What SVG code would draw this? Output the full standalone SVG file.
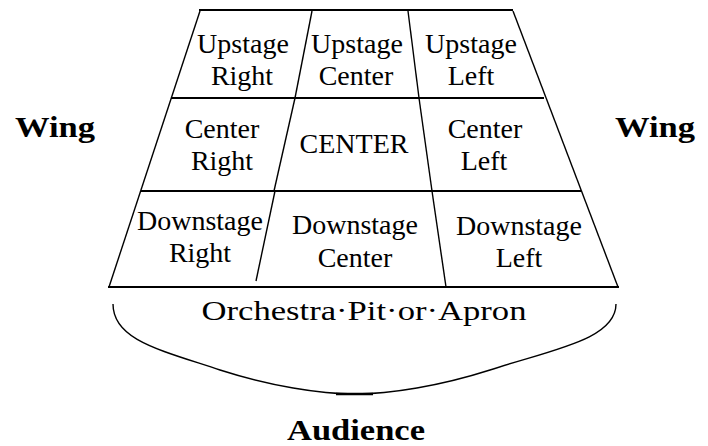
<svg xmlns="http://www.w3.org/2000/svg" width="708" height="446" viewBox="0 0 708 446">
<style>
.h{stroke:#000;stroke-width:2;fill:none}
.s{stroke:#000;stroke-width:1.4;fill:none}
.c{font-family:"Liberation Serif","Times New Roman",serif;font-size:28px;fill:#000;text-anchor:middle}
.b{font-family:"Liberation Serif","Times New Roman",serif;font-size:30px;font-weight:bold;fill:#000;text-anchor:middle}
</style>
<rect width="708" height="446" fill="#fff"/>
<g id="stage-grid">
<line class="h" x1="199" y1="10" x2="513" y2="10"/>
<line class="h" x1="171" y1="98" x2="544" y2="98"/>
<line class="h" x1="141" y1="191" x2="581" y2="191"/>
<line class="h" x1="108" y1="287" x2="619" y2="287"/>
<line class="s" x1="200" y1="11" x2="109" y2="287"/>
<line class="s" x1="513" y1="11" x2="618" y2="287"/>
<line class="s" x1="312" y1="11" x2="295" y2="98"/>
<line class="s" x1="295" y1="98" x2="274" y2="191"/>
<line class="s" x1="275" y1="191" x2="256" y2="281"/>
<line class="s" x1="408" y1="11" x2="419" y2="98"/>
<line class="s" x1="419" y1="98" x2="432" y2="191"/>
<line class="s" x1="432" y1="191" x2="446" y2="287"/>
</g>
<g id="audience-curve">
<path class="s" d="M113,304 C113,340 160,350 220,370 C270,386 320,394 355,394"/>
<path class="s" d="M355,394 C390,394 440,386 490,370 C550,350 616,340 616,304"/>
<line x1="336" y1="394" x2="373" y2="394" stroke="#000" stroke-width="2.5"/>
</g>
<g id="upstage-right"><text class="c" x="243" y="53">Upstage</text><text class="c" x="242" y="85">Right</text></g>
<g id="upstage-center"><text class="c" x="357" y="53">Upstage</text><text class="c" x="356" y="85">Center</text></g>
<g id="upstage-left"><text class="c" x="471" y="53">Upstage</text><text class="c" x="471" y="85">Left</text></g>
<g id="center-right"><text class="c" x="222" y="138">Center</text><text class="c" x="222" y="170">Right</text></g>
<g id="center"><text class="c" x="354" y="153">CENTER</text></g>
<g id="center-left"><text class="c" x="485" y="138">Center</text><text class="c" x="484" y="170">Left</text></g>
<g id="downstage-right"><text class="c" x="200" y="230">Downstage</text><text class="c" x="200" y="262">Right</text></g>
<g id="downstage-center"><text class="c" x="355" y="234">Downstage</text><text class="c" x="355" y="267">Center</text></g>
<g id="downstage-left"><text class="c" x="519" y="235">Downstage</text><text class="c" x="519" y="267">Left</text></g>
<g id="orchestra-pit"><text class="c" x="364" y="320" font-size="30" textLength="325" lengthAdjust="spacingAndGlyphs">Orchestra·Pit·or·Apron</text></g>
<g id="wing-left"><text class="b" x="55" y="137" textLength="80" lengthAdjust="spacingAndGlyphs">Wing</text></g>
<g id="wing-right"><text class="b" x="655" y="137" textLength="80" lengthAdjust="spacingAndGlyphs">Wing</text></g>
<g id="audience"><text class="b" x="356" y="440" textLength="138" lengthAdjust="spacingAndGlyphs">Audience</text></g>
</svg>
